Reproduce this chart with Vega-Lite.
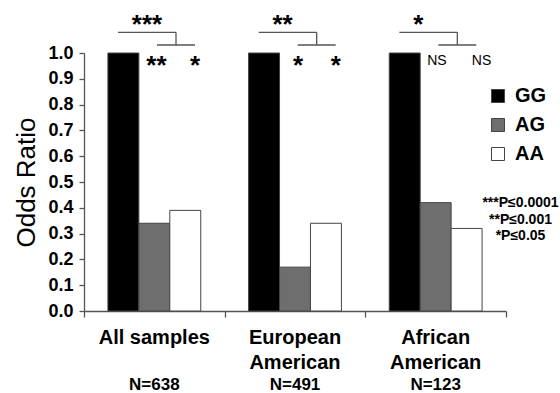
{
  "$schema": "https://vega.github.io/schema/vega-lite/v6.json",
  "width": 422,
  "height": 258,
  "autosize": {"type": "none"},
  "padding": {"left": 84, "top": 53, "right": 54, "bottom": 82},
  "background": "white",
  "config": {
    "font": "Liberation Sans",
    "view": {"stroke": null},
    "axis": {"domainColor": "#555", "tickColor": "#555", "labelColor": "black", "grid": false, "domainWidth": 1.3, "tickWidth": 1.3, "labelOverlap": false}
  },
  "datasets": {
    "bars": [
      {"group": "All samples", "genotype": "GG", "value": 1.0},
      {"group": "All samples", "genotype": "AG", "value": 0.34},
      {"group": "All samples", "genotype": "AA", "value": 0.39},
      {"group": "European American", "genotype": "GG", "value": 1.0},
      {"group": "European American", "genotype": "AG", "value": 0.17},
      {"group": "European American", "genotype": "AA", "value": 0.34},
      {"group": "African American", "genotype": "GG", "value": 1.0},
      {"group": "African American", "genotype": "AG", "value": 0.42},
      {"group": "African American", "genotype": "AA", "value": 0.32}
    ],
    "groups": [
      {"group": "All samples", "n": "N=638"},
      {"group": "European American", "n": "N=491"},
      {"group": "African American", "n": "N=123"}
    ]
  },
  "layer": [
    {
      "data": {"name": "bars"},
      "mark": {"type": "bar", "stroke": "#444", "strokeWidth": 1},
      "encoding": {
        "x": {
          "field": "group", "type": "nominal",
          "sort": ["All samples", "European American", "African American"],
          "scale": {"paddingInner": 0.34, "paddingOuter": 0.17},
          "axis": {
            "title": null, "orient": "bottom", "ticks": false, "domain": false, "labelAngle": 0,
            "labelFontSize": 20, "labelFontWeight": "bold", "labelLineHeight": 25,
            "labelPadding": 16, "labelOverlap": false, "labelBound": false,
            "labelExpr": "datum.label == 'All samples' ? datum.label : split(datum.label, ' ')"
          }
        },
        "xOffset": {
          "field": "genotype", "type": "nominal", "sort": ["GG", "AG", "AA"],
          "scale": {"paddingInner": 0, "paddingOuter": 0}
        },
        "y": {
          "field": "value", "type": "quantitative",
          "scale": {"domain": [0, 1], "nice": false},
          "axis": {
            "title": "Odds Ratio", "titleFontSize": 26, "titleFontWeight": "normal", "titleColor": "black",
            "titlePadding": 8, "orient": "left",
            "values": [0, 0.1, 0.2, 0.3, 0.4, 0.5, 0.6, 0.7, 0.8, 0.9, 1.0],
            "format": ".1f", "labelFontSize": 18, "labelFontWeight": "bold",
            "labelOverlap": false, "labelBound": false,
            "tickSize": 5, "labelPadding": 6
          }
        },
        "fill": {
          "field": "genotype", "type": "nominal",
          "scale": {"domain": ["GG", "AG", "AA"], "range": ["#000000", "#6e6e6e", "#ffffff"]},
          "legend": {
            "title": null, "orient": "none", "legendX": 404, "legendY": 33,
            "symbolType": "square", "symbolSize": 169, "symbolStrokeColor": "#444", "symbolStrokeWidth": 1,
            "labelFontSize": 20, "labelFontWeight": "bold", "labelColor": "black",
            "labelOffset": 7, "rowPadding": 9
          }
        }
      }
    },
    {
      "data": {"name": "groups"},
      "mark": {"type": "text", "fontSize": 17, "fontWeight": "bold", "baseline": "alphabetic", "color": "black"},
      "encoding": {
        "x": {
          "field": "group", "type": "nominal",
          "sort": ["All samples", "European American", "African American"],
          "scale": {"paddingInner": 0.34, "paddingOuter": 0.17},
          "axis": null
        },
        "y": {"datum": -0.306, "type": "quantitative", "axis": null},
        "text": {"field": "n"}
      }
    },
    {
      "layer": [
        {
          "data": {"values": [{"x": 0.242, "x2": 0.654}, {"x": 1.242, "x2": 1.654}, {"x": 2.242, "x2": 2.654}]},
          "mark": {"type": "rule", "color": "#555", "strokeWidth": 1.3},
          "encoding": {
            "x": {
              "field": "x", "type": "quantitative",
              "scale": {"domain": [0, 3], "nice": false, "zero": false},
              "axis": {"title": null, "orient": "bottom", "values": [0, 1, 2, 3], "labels": false, "ticks": true, "tickSize": 6, "domain": true, "grid": false}
            },
            "x2": {"field": "x2"},
            "y": {"datum": 1.08, "type": "quantitative", "axis": null}
          }
        },
        {
          "data": {"values": [{"x": 0.654}, {"x": 1.654}, {"x": 2.654}]},
          "mark": {"type": "rule", "color": "#555", "strokeWidth": 1.3},
          "encoding": {
            "x": {"field": "x", "type": "quantitative"},
            "y": {"datum": 1.08, "type": "quantitative", "axis": null},
            "y2": {"datum": 1.031}
          }
        },
        {
          "data": {"values": [{"x": 0.519, "x2": 0.789}, {"x": 1.519, "x2": 1.789}, {"x": 2.519, "x2": 2.789}]},
          "mark": {"type": "rule", "color": "#555", "strokeWidth": 1.3},
          "encoding": {
            "x": {"field": "x", "type": "quantitative"},
            "x2": {"field": "x2"},
            "y": {"datum": 1.031, "type": "quantitative", "axis": null}
          }
        },
        {
          "data": {"values": [{"x": 0.34, "label": "***"}, {"x": 1.34, "label": "**"}, {"x": 2.34, "label": "*"}]},
          "mark": {"type": "text", "fontSize": 26, "fontWeight": "bold", "align": "left", "baseline": "alphabetic", "color": "black"},
          "encoding": {
            "x": {"field": "x", "type": "quantitative"},
            "y": {"datum": 1.077, "type": "quantitative", "axis": null},
            "text": {"field": "label"}
          }
        },
        {
          "data": {"values": [{"x": 0.515, "label": "**"}, {"x": 0.789, "label": "*"}, {"x": 1.521, "label": "*"}, {"x": 1.791, "label": "*"}]},
          "mark": {"type": "text", "fontSize": 26, "fontWeight": "bold", "align": "center", "baseline": "alphabetic", "color": "black"},
          "encoding": {
            "x": {"field": "x", "type": "quantitative"},
            "y": {"datum": 0.917, "type": "quantitative", "axis": null},
            "text": {"field": "label"}
          }
        },
        {
          "data": {"values": [{"x": 2.509, "label": "NS"}, {"x": 2.826, "label": "NS"}]},
          "mark": {"type": "text", "fontSize": 14, "align": "center", "baseline": "alphabetic", "color": "black"},
          "encoding": {
            "x": {"field": "x", "type": "quantitative"},
            "y": {"datum": 0.953, "type": "quantitative", "axis": null},
            "text": {"field": "label"}
          }
        },
        {
          "data": {"values": [{"x": 3.103, "label": "***P≤0.0001\n**P≤0.001\n*P≤0.05"}]},
          "mark": {"type": "text", "fontSize": 14, "fontWeight": "bold", "align": "center", "baseline": "alphabetic", "lineBreak": "\n", "lineHeight": 16.5, "color": "black"},
          "encoding": {
            "x": {"field": "x", "type": "quantitative"},
            "y": {"datum": 0.403, "type": "quantitative", "axis": null},
            "text": {"field": "label"}
          }
        }
      ]
    }
  ],
  "resolve": {"scale": {"x": "independent"}, "axis": {"y": "independent"}}
}
